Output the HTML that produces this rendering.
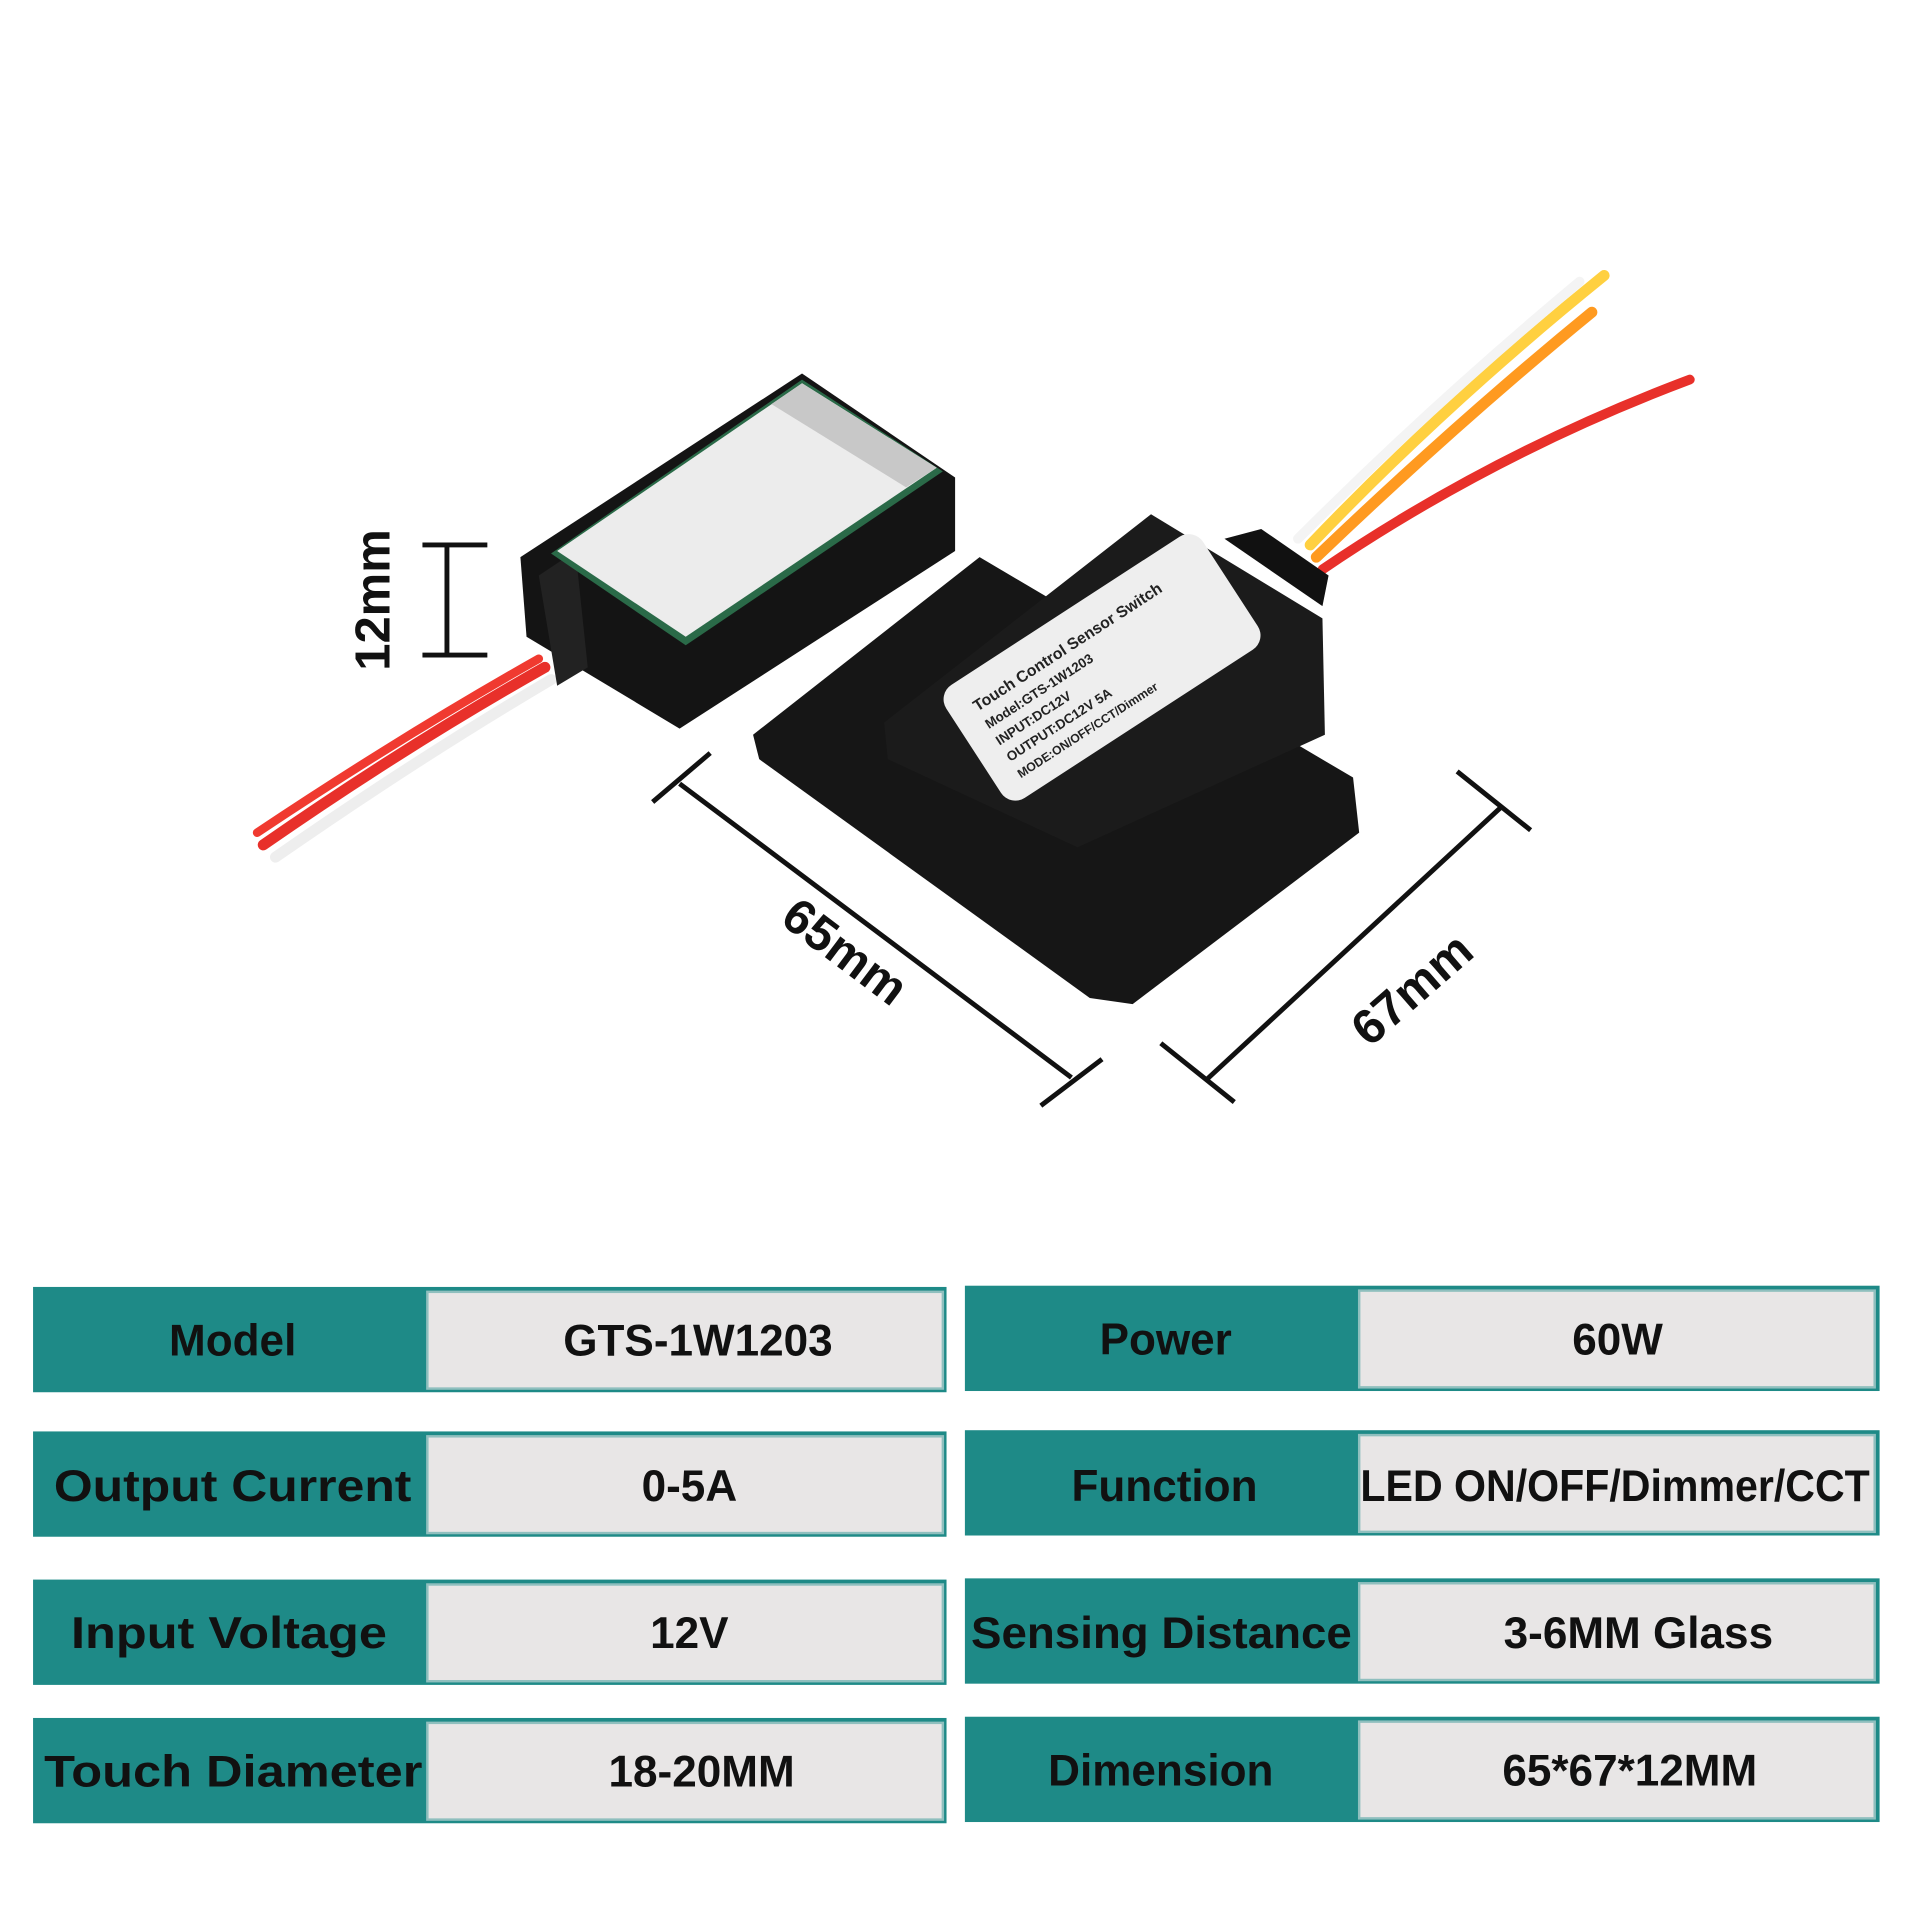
<!DOCTYPE html>
<html><head><meta charset="utf-8"><style>
html,body{margin:0;padding:0;background:#fff;width:1920px;height:1920px;overflow:hidden}
svg{display:block}
text{font-family:"Liberation Sans",sans-serif;font-weight:bold}
</style></head><body>
<svg width="1920" height="1920" viewBox="0 0 1568 1568" xmlns="http://www.w3.org/2000/svg">
<rect width="1568" height="1568" fill="#fff"/>
<!-- wires left -->
<g fill="none" stroke-linecap="round">
<path d="M445 545 Q330 610 215 690" stroke="#e8302a" stroke-width="9"/>
<path d="M450 555 Q340 620 225 700" stroke="#eee" stroke-width="9"/>
<path d="M440 538 Q330 600 210 680" stroke="#f03a30" stroke-width="7"/>
<!-- wires right -->
<path d="M1070 445 Q1180 330 1310 225" stroke="#ffd040" stroke-width="9"/>
<path d="M1075 455 Q1190 345 1300 255" stroke="#ff9a20" stroke-width="9"/>
<path d="M1060 440 Q1170 330 1290 230" stroke="#f4f4f4" stroke-width="8"/>
<path d="M1080 465 Q1220 370 1380 310" stroke="#e8302a" stroke-width="8"/>
</g>
<!-- left module -->
<polygon points="425,455 655,305 780,390 780,450 555,595 430,520" fill="#141414"/>
<polygon points="440,470 470,450 480,545 455,560" fill="#222"/>
<polygon points="450,452 655,310 770,385 560,527" fill="#2a6a48"/>
<polygon points="455,450 655,313 765,382 560,520" fill="#ececec"/>
<polygon points="630,330 655,313 765,382 740,398" fill="#c8c8c8"/>
<!-- right module base -->
<polygon points="615,600 800,455 1105,635 1110,680 925,820 890,815 620,620" fill="#161616"/>
<polygon points="722,590 940,420 1080,505 1082,600 880,692 725,620" fill="#1b1b1b"/>
<polygon points="1000,440 1030,432 1085,470 1080,495" fill="#111"/>
<g transform="translate(900,545) rotate(-33)">
<rect x="-125" y="-55" width="250" height="110" rx="14" fill="#eeeeee"/>
<text x="-105" y="-25" font-size="13" font-weight="normal" fill="#222">Touch Control Sensor Switch</text>
<text x="-105" y="-8" font-size="11" font-weight="normal" fill="#222">Model:GTS-1W1203</text>
<text x="-105" y="8" font-size="11" font-weight="normal" fill="#222">INPUT:DC12V</text>
<text x="-105" y="24" font-size="11" font-weight="normal" fill="#222">OUTPUT:DC12V 5A</text>
<text x="-105" y="40" font-size="10" font-weight="normal" fill="#222">MODE:ON/OFF/CCT/Dimmer</text>
</g>
<!-- dimensions -->
<g stroke="#111" stroke-width="4" fill="none">
<line x1="365" y1="445" x2="365" y2="535"/>
<line x1="345" y1="445" x2="398" y2="445"/>
<line x1="345" y1="535" x2="398" y2="535"/>
<line x1="555" y1="640" x2="875" y2="880"/>
<line x1="533" y1="655" x2="580" y2="615"/>
<line x1="850" y1="903" x2="900" y2="865"/>
<line x1="1225" y1="660" x2="985" y2="882"/>
<line x1="1190" y1="630" x2="1250" y2="678"/>
<line x1="948" y1="852" x2="1008" y2="900"/>
</g>
<text transform="translate(318,490) rotate(-90)" text-anchor="middle" font-size="40" fill="#111">12mm</text>
<text transform="translate(682,788) rotate(37)" text-anchor="middle" font-size="40" fill="#111">65mm</text>
<text transform="translate(1162,818) rotate(-41)" text-anchor="middle" font-size="40" fill="#111">67mm</text>
<!-- table -->
<g font-size="36">
<g transform="translate(0,0)">
<rect x="27" y="1051" width="746" height="86" fill="#1e8a87"/><rect x="349" y="1055" width="421" height="79" fill="#e8e6e6" stroke="#8fbfbe" stroke-width="2"/>
<text x="190" y="1107" text-anchor="middle" fill="#111">Model</text><text x="570" y="1107" text-anchor="middle" fill="#111">GTS-1W1203</text>
<rect x="788" y="1050" width="747" height="86" fill="#1e8a87"/><rect x="1110" y="1054" width="421" height="79" fill="#e8e6e6" stroke="#8fbfbe" stroke-width="2"/>
<text x="952" y="1106" text-anchor="middle" fill="#111">Power</text><text x="1321" y="1106" text-anchor="middle" fill="#111">60W</text>
</g>
<g>
<rect x="27" y="1169" width="746" height="86" fill="#1e8a87"/><rect x="349" y="1173" width="421" height="79" fill="#e8e6e6" stroke="#8fbfbe" stroke-width="2"/>
<text x="190" y="1226" text-anchor="middle" fill="#111" textLength="292" lengthAdjust="spacingAndGlyphs">Output Current</text><text x="563" y="1226" text-anchor="middle" fill="#111">0-5A</text>
<rect x="788" y="1168" width="747" height="86" fill="#1e8a87"/><rect x="1110" y="1172" width="421" height="79" fill="#e8e6e6" stroke="#8fbfbe" stroke-width="2"/>
<text x="951" y="1226" text-anchor="middle" fill="#111">Function</text><text x="1111" y="1226" fill="#111" textLength="416" lengthAdjust="spacingAndGlyphs">LED ON/OFF/Dimmer/CCT</text>
</g>
<g>
<rect x="27" y="1290" width="746" height="86" fill="#1e8a87"/><rect x="349" y="1294" width="421" height="79" fill="#e8e6e6" stroke="#8fbfbe" stroke-width="2"/>
<text x="187" y="1346" text-anchor="middle" fill="#111" textLength="258" lengthAdjust="spacingAndGlyphs">Input Voltage</text><text x="563" y="1346" text-anchor="middle" fill="#111">12V</text>
<rect x="788" y="1289" width="747" height="86" fill="#1e8a87"/><rect x="1110" y="1293" width="421" height="79" fill="#e8e6e6" stroke="#8fbfbe" stroke-width="2"/>
<text x="793" y="1346" fill="#111" textLength="311" lengthAdjust="spacingAndGlyphs">Sensing Distance</text><text x="1338" y="1346" text-anchor="middle" fill="#111">3-6MM Glass</text>
</g>
<g>
<rect x="27" y="1403" width="746" height="86" fill="#1e8a87"/><rect x="349" y="1407" width="421" height="79" fill="#e8e6e6" stroke="#8fbfbe" stroke-width="2"/>
<text x="36" y="1459" fill="#111" textLength="309" lengthAdjust="spacingAndGlyphs">Touch Diameter</text><text x="573" y="1459" text-anchor="middle" fill="#111">18-20MM</text>
<rect x="788" y="1402" width="747" height="86" fill="#1e8a87"/><rect x="1110" y="1406" width="421" height="79" fill="#e8e6e6" stroke="#8fbfbe" stroke-width="2"/>
<text x="948" y="1458" text-anchor="middle" fill="#111">Dimension</text><text x="1331" y="1458" text-anchor="middle" fill="#111">65*67*12MM</text>
</g>
</g>
</svg>
</body></html>
